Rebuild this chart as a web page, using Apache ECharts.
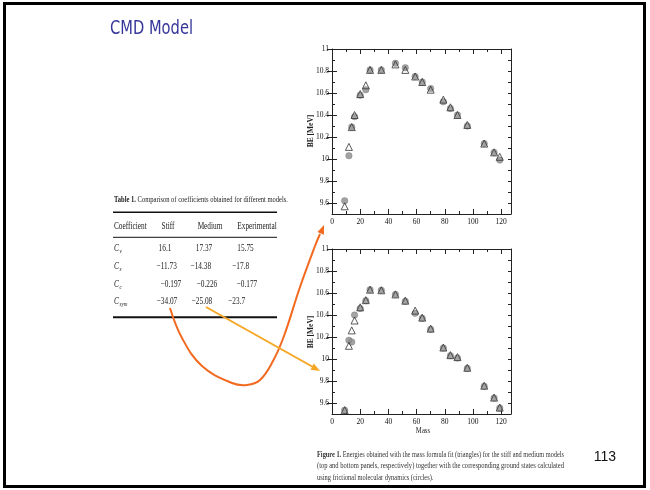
<!DOCTYPE html>
<html><head><meta charset="utf-8">
<script src="https://cdn.jsdelivr.net/npm/echarts@6/dist/echarts.min.js"></script>
<style>html,body{margin:0;padding:0;background:#fff}#c{width:650px;height:490px}</style>
</head><body><div id="c"></div>
<script>
// ---------- data ----------
const masses     = [9, 12, 14, 16, 20, 24, 27, 35, 45, 52, 59, 64, 70, 79, 84, 89, 96, 108, 115, 119];
const stiffFit   = [9.57, 10.11, 10.29, 10.40, 10.59, 10.67, 10.81, 10.81, 10.86, 10.81, 10.75, 10.70, 10.63, 10.54, 10.47, 10.40, 10.31, 10.14, 10.06, 10.02];
const stiffFMD   = [9.62, 10.03, 10.29, 10.385, 10.58, 10.63, 10.81, 10.81, 10.87, 10.83, 10.75, 10.70, 10.64, 10.52, 10.46, 10.40, 10.30, 10.14, 10.06, 9.99];
const mediumFit  = [9.535, 10.12, 10.26, 10.35, 10.47, 10.535, 10.63, 10.625, 10.587, 10.53, 10.44, 10.376, 10.276, 10.104, 10.035, 10.017, 9.92, 9.757, 9.649, 9.558];
const mediumFMD  = [9.535, 10.17, 10.155, 10.40, 10.46, 10.53, 10.63, 10.625, 10.587, 10.525, 10.415, 10.37, 10.27, 10.10, 10.03, 10.01, 9.915, 9.752, 9.645, 9.555];
const xTickLabels = [0, 20, 40, 60, 80, 100, 120];
const yTickLabels = [9.6, 9.8, 10, 10.2, 10.4, 10.6, 10.8, 11];
const tableHeader = ['Coefficient', 'Stiff', 'Medium', 'Experimental'];
const coefSubs    = ['v', 's', 'c', 'sym'];
const stiffCoef   = ['16.1', '\u221211.73', '\u22120.197', '\u221234.07'];
const mediumCoef  = ['17.37', '\u221214.38', '\u22120.226', '\u221225.08'];
const expCoef     = ['15.75', '\u221217.8', '\u22120.177', '\u221223.7'];
const titleText   = 'CMD Model';
const pageNumber  = '113';
const tableTitle  = ['Table 1.', ' Comparison of coefficients obtained for different models.'];
const captionLines = [
  'Energies obtained with the mass formula fit (triangles) for the stiff and medium models',
  '(top and bottom panels, respectively) together with the corresponding ground states calculated',
  'using frictional molecular dynamics (circles).'
];

// ---------- helpers ----------
const X_MAX = 127, Y_MIN = 9.5, Y_MAX = 11;
const xMinor = []; for (let v = 0; v <= 120; v += 10) xMinor.push(v);
const yMinor = []; for (let k = 95; k <= 110; k++) yMinor.push(k / 10);
const INK = '#222';
const SERIF = '"Liberation Serif", "DejaVu Serif", serif';
const mctx = document.createElement('canvas').getContext('2d');
function measure(text, font) { mctx.font = font; return mctx.measureText(text).width; }

function txt(x, y, text, o) {
  o = o || {};
  const align = o.align || 'left';
  const va = o.va || 'middle';
  return {
    type: 'text', x: x, y: y, z: 100,
    scaleX: o.scaleX || 1, rotation: o.rotation || 0,
    style: {
      text: text, x: 0, y: 0,
      fontSize: o.size || 10, fontFamily: o.family || SERIF,
      fontWeight: o.weight || 'normal', fontStyle: o.style || 'normal',
      fill: o.color || INK,
      align: align, textAlign: align, verticalAlign: va, textVerticalAlign: va
    }
  };
}
function fitScale(text, size, family, weight, target) {
  const w = measure(text, (weight || 'normal') + ' ' + size + 'px ' + family);
  return target / w;
}

const grids = [
  { left: 332, top: 49, width: 179, height: 165 },
  { left: 332, top: 249, width: 179, height: 165 }
];

const xAxes = [], yAxes = [];
grids.forEach((g, gi) => {
  const tick = (len, vals) => ({ show: true, inside: true, length: len, customValues: vals, lineStyle: { color: INK, width: 1 } });
  const line = { show: true, onZero: false, lineStyle: { color: INK, width: 1 } };
  ['bottom', 'top'].forEach(pos => {
    [3, 5].forEach(len => {
      xAxes.push({
        gridIndex: gi, type: 'value', position: pos, min: 0, max: X_MAX, interval: 10,
        axisLine: len === 3 ? line : { show: false },
        axisTick: tick(len, len === 3 ? xMinor : xTickLabels),
        splitLine: { show: false },
        axisLabel: (pos === 'bottom' && len === 5) ? {
          show: true, customValues: xTickLabels, margin: 4,
          fontFamily: SERIF, fontSize: 7.5, color: '#111'
        } : { show: false }
      });
    });
  });
  ['left', 'right'].forEach(pos => {
    [3, 5].forEach(len => {
      yAxes.push({
        gridIndex: gi, type: 'value', position: pos, min: Y_MIN, max: Y_MAX, interval: 0.1,
        axisLine: len === 3 ? line : { show: false },
        axisTick: tick(len, len === 3 ? yMinor : yTickLabels),
        splitLine: { show: false },
        axisLabel: (pos === 'left' && len === 5) ? {
          show: true, customValues: yTickLabels, margin: 3,
          fontFamily: SERIF, fontSize: 7.5, color: '#111'
        } : { show: false }
      });
    });
  });
});

function pairs(ys) { return masses.map((m, i) => [m, ys[i]]); }
function circleSeries(gi, ys) {
  return {
    type: 'scatter', xAxisIndex: gi * 4, yAxisIndex: gi * 4, data: pairs(ys),
    symbol: 'circle', symbolSize: 6.5, z: 3,
    itemStyle: { color: '#8c8c8c', borderColor: '#777', borderWidth: 0.5 }
  };
}
function triSeries(gi, ys) {
  return {
    type: 'scatter', xAxisIndex: gi * 4, yAxisIndex: gi * 4, data: pairs(ys),
    symbol: 'triangle', symbolSize: [7, 7], z: 4,
    itemStyle: { color: 'rgba(0,0,0,0)', borderColor: '#333', borderWidth: 1 }
  };
}

// ---------- graphics (slide decoration) ----------
const gfx = [];
gfx.push({ type: 'rect', z: 100, shape: { x: 4.5, y: 3.5, width: 640, height: 483 }, style: { fill: 'none', stroke: '#000', lineWidth: 3 } });
// title
gfx.push(txt(110, 29, titleText, { size: 20, family: '"DejaVu Sans", sans-serif', color: '#35359a',
  scaleX: fitScale(titleText, 20, '"DejaVu Sans"', 'normal', 83) }));
// page number
gfx.push(txt(605, 457, pageNumber, { size: 14, family: '"Liberation Sans", Arial, sans-serif', color: '#111', align: 'center' }));

// table
const TS = 0.73;
const t1w = measure(tableTitle[0], 'bold 9px "Liberation Serif"');
const t2w = measure(tableTitle[1], 'normal 9px "Liberation Serif"');
const tScale = 174 / (t1w + t2w);
gfx.push(txt(114, 200, tableTitle[0], { size: 9, weight: 'bold', scaleX: tScale }));
gfx.push(txt(114 + t1w * tScale, 200, tableTitle[1], { size: 9, scaleX: tScale }));
gfx.push({ type: 'line', z: 100, shape: { x1: 113, y1: 212.3, x2: 277, y2: 212.3 }, style: { stroke: '#111', lineWidth: 1.6 } });
gfx.push({ type: 'line', z: 100, shape: { x1: 113, y1: 237.3, x2: 277, y2: 237.3 }, style: { stroke: '#111', lineWidth: 1 } });
gfx.push({ type: 'line', z: 100, shape: { x1: 113, y1: 317.3, x2: 277, y2: 317.3 }, style: { stroke: '#111', lineWidth: 2 } });
gfx.push(txt(114, 226.5, tableHeader[0], { scaleX: TS }));
const headX = [null, 168, 210, 257];
for (let c = 1; c < 4; c++) gfx.push(txt(headX[c], 226.5, tableHeader[c], { scaleX: TS, align: 'center' }));
const rowY = [248.3, 266.7, 284.3, 301.7];
const cellX = [[165, 204, 245.5], [166.7, 200.8, 240.7], [171, 207, 247], [167, 202, 236.7]];
const cols = [stiffCoef, mediumCoef, expCoef];
rowY.forEach((y, r) => {
  gfx.push(txt(114, y, 'C', { style: 'italic', scaleX: TS }));
  gfx.push(txt(119.5, y + 3, coefSubs[r], { style: 'italic', size: 6, scaleX: 0.85 }));
  cols.forEach((col, c) => gfx.push(txt(cellX[r][c], y, col[r], { scaleX: TS, align: 'center' })));
});

// axis titles
[131, 332].forEach(cy => gfx.push(txt(311, cy, 'BE [MeV]', { size: 7.5, weight: 'bold', align: 'center', rotation: Math.PI / 2 })));
gfx.push(txt(423, 431, 'Mass', { size: 7.5, align: 'center', scaleX: 0.9 }));

// caption
const capW = [247, 247, null];
const fig = 'Figure 1. ';
const figW = measure(fig, 'bold 8px "Liberation Serif"');
captionLines.forEach((line, i) => {
  const y = 455 + i * 11.3;
  if (i === 0) {
    const lw = measure(line, 'normal 8px "Liberation Serif"');
    const s = capW[0] / (figW + lw);
    gfx.push(txt(317, y, fig, { size: 8, weight: 'bold', scaleX: s, color: '#333' }));
    gfx.push(txt(317 + figW * s, y, line, { size: 8, scaleX: s, color: '#333' }));
  } else {
    const s = i === 1 ? fitScale(line, 8, '"Liberation Serif"', 'normal', capW[1]) : 0.8;
    gfx.push(txt(317, y, line, { size: 8, scaleX: s, color: '#333' }));
  }
});

// arrows
function arrowHead(tip, from, color, len, wid) {
  const dx = tip[0] - from[0], dy = tip[1] - from[1];
  const d = Math.hypot(dx, dy), ux = dx / d, uy = dy / d;
  const bx = tip[0] - ux * len, by = tip[1] - uy * len;
  return { type: 'polygon', z: 101, shape: { points: [tip, [bx - uy * wid / 2, by + ux * wid / 2], [bx + uy * wid / 2, by - ux * wid / 2]] },
    style: { fill: color } };
}
const orange = '#f26a1f', amber = '#f5a623';
const curvePts = [[170, 308], [182, 338], [202, 366], [232, 383], [247, 385], [260, 380], [273, 361], [284, 336], [300, 287], [315, 246], [320, 234]];
gfx.push({ type: 'polyline', z: 100, shape: { points: curvePts, smooth: 0.4 }, style: { stroke: orange, lineWidth: 2, fill: null } });
gfx.push(arrowHead([324, 225], [318, 240], orange, 9, 7));
gfx.push({ type: 'line', z: 100, shape: { x1: 206, y1: 307, x2: 313, y2: 367 }, style: { stroke: amber, lineWidth: 2 } });
gfx.push(arrowHead([320, 371], [206, 307], amber, 9, 7));

const chart = echarts.init(document.getElementById('c'), null, { renderer: 'canvas' });
chart.setOption({
  animation: false,
  backgroundColor: '#fff',
  grid: grids,
  xAxis: xAxes,
  yAxis: yAxes,
  series: [circleSeries(0, stiffFMD), triSeries(0, stiffFit), circleSeries(1, mediumFMD), triSeries(1, mediumFit)],
  graphic: { elements: gfx }
});
</script></body></html>
